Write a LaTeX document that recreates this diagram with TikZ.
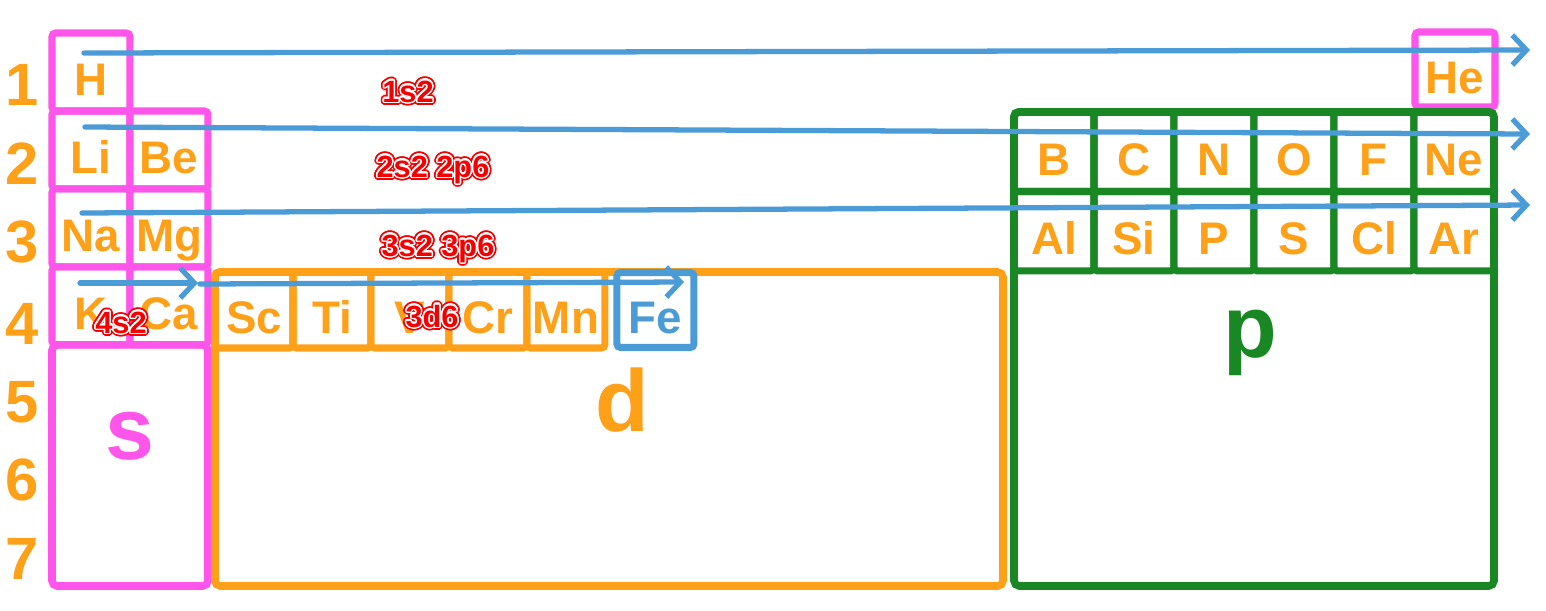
\documentclass[tikz,border=0pt]{standalone}
\usepackage{fontspec}
\setmainfont{Liberation Sans}
\usepackage{contour}
\usepackage{tikz}
\usetikzlibrary{arrows.meta, positioning}
\definecolor{sblockpink}{RGB}{255, 85, 235}
\definecolor{dblockorange}{RGB}{255, 160, 25}
\definecolor{pblockgreen}{RGB}{25, 135, 35}
\definecolor{shellblue}{RGB}{75, 155, 215}
\definecolor{configred}{RGB}{245, 0, 0}
\contournumber{24}
\newcommand{\redlabel}[1]{%
  \contourlength{1.9pt}\rlap{\contour{configred}{#1}}%
  \contourlength{0.8pt}\contour{white}{#1}}

\begin{document}
\begin{tikzpicture}[
    x = 0.02cm, y = -0.02cm,
    every node/.style = {outer sep=0pt, inner sep=0pt},
    elem/.style     = {rectangle, draw, line width=4pt, rounded corners=2pt,
                       text height=27pt, text depth=0pt, text=dblockorange,
                       font=\fontsize{26}{26}\selectfont\bfseries},
    scell/.style    = {elem, draw=sblockpink, minimum width=1.56cm, minimum height=1.56cm},
    dcell/.style    = {elem, draw=dblockorange, minimum width=1.56cm, minimum height=1.52cm},
    pcell/.style    = {elem, draw=pblockgreen, minimum width=1.6cm, minimum height=1.59cm},
    block/.style    = {line width=4.3pt, rounded corners=3pt},
    blocklbl/.style = {font=\fontsize{50}{50}\selectfont\bfseries},
    rownum/.style   = {text=dblockorange, font=\fontsize{34}{34}\selectfont\bfseries},
    config/.style   = {text=configred, anchor=base,
                       font=\fontsize{17.5}{17.5}\selectfont\bfseries},
    shell/.style    = {-{Straight Barb[length=8pt, width=17pt]}, line width=3pt,
                       color=shellblue, line cap=round, line join=round},
  ]
  \useasboundingbox (0,0) rectangle (1546,610);

  %% Period numbers
  \node[rownum] (row1) at (22,85)  {1};
  \node[rownum] (row2) at (22,164) {2};
  \node[rownum] (row3) at (22,242) {3};
  \node[rownum] (row4) at (22,324) {4};
  \node[rownum] (row5) at (22,402) {5};
  \node[rownum] (row6) at (22,480) {6};
  \node[rownum] (row7) at (22,559) {7};

  %% s block
  \node[scell, anchor=north west] (h) at (52,33) {H};
  \node[scell, below=0pt of h]  (li) {Li};
  \node[scell, right=0pt of li] (be) {Be};
  \node[scell, below=0pt of li] (na) {Na};
  \node[scell, right=0pt of na] (mg) {Mg};
  \node[scell, below=0pt of na] (k)  {K};
  \node[scell, right=0pt of k]  (ca) {Ca};
  \coordinate (sbot) at (208,586);
  \draw[block, sblockpink] (k.south west) rectangle (sbot);
  \node[blocklbl, text=sblockpink] (slbl) at (130,436) {s};

  \node[scell, minimum width=1.6cm, minimum height=1.5cm, anchor=north west] (he) at (1415,32) {He};

  %% d block
  \node[dcell, anchor=north west] (sc) at (215,272) {Sc};
  \node[dcell, right=0pt of sc] (ti) {Ti};
  \node[dcell, right=0pt of ti] (v)  {V};
  \node[dcell, right=0pt of v]  (cr) {Cr};
  \node[dcell, right=0pt of cr] (mn) {Mn};
  \coordinate (dbot) at (1003,586);
  \draw[block, dblockorange] (sc.north west) rectangle (dbot);
  \node[dcell, draw=shellblue, text=shellblue, minimum width=1.54cm,
        minimum height=1.5cm, right=0.24cm of mn] (fe) {Fe};
  \node[blocklbl, text=dblockorange] (dlbl) at (622,400) {d};

  %% p block
  \node[pcell, anchor=north west] (b) at (1014,112) {B};
  \node[pcell, right=0pt of b] (c)  {C};
  \node[pcell, right=0pt of c] (n)  {N};
  \node[pcell, right=0pt of n] (o)  {O};
  \node[pcell, right=0pt of o] (f)  {F};
  \node[pcell, right=0pt of f] (ne) {Ne};
  \node[pcell, below=0pt of b]  (al) {Al};
  \node[pcell, right=0pt of al] (si) {Si};
  \node[pcell, right=0pt of si] (p)  {P};
  \node[pcell, right=0pt of p]  (s)  {S};
  \node[pcell, right=0pt of s]  (cl) {Cl};
  \node[pcell, right=0pt of cl] (ar) {Ar};
  \coordinate (pbot) at (1494,586);
  \draw[block, pblockgreen] (b.north west) rectangle (pbot);
  \node[blocklbl, text=pblockgreen] (plbl) at (1250,343) {p};

  %% Filling order arrows
  \coordinate (fill1a) at (84,53);  \coordinate (fill1b) at (1530,50);
  \coordinate (fill2a) at (85,127); \coordinate (fill2b) at (1530,134);
  \coordinate (fill3a) at (82,213); \coordinate (fill3b) at (1530,205);
  \coordinate (fill4a) at (80,283); \coordinate (fill4b) at (198,283);
  \coordinate (fill5a) at (200,284); \coordinate (fill5b) at (684,282);
  \draw[shell] (fill1a) -- (fill1b);
  \draw[shell] (fill2a) -- (fill2b);
  \draw[shell] (fill3a) -- (fill3b);
  \draw[shell] (fill4a) -- (fill4b);
  \draw[shell] (fill5a) -- (fill5b);

  %% Electron configuration labels
  \node[config] (cfg1) at (408,102) {\redlabel{1s2}};
  \node[config] (cfg2) at (433,177) {\redlabel{2s2 2p6}};
  \node[config] (cfg3) at (438,256) {\redlabel{3s2 3p6}};
  \node[config] (cfg4) at (121,333) {\redlabel{4s2}};
  \node[config] (cfg5) at (432,327) {\redlabel{3d6}};

\end{tikzpicture}
\end{document}
